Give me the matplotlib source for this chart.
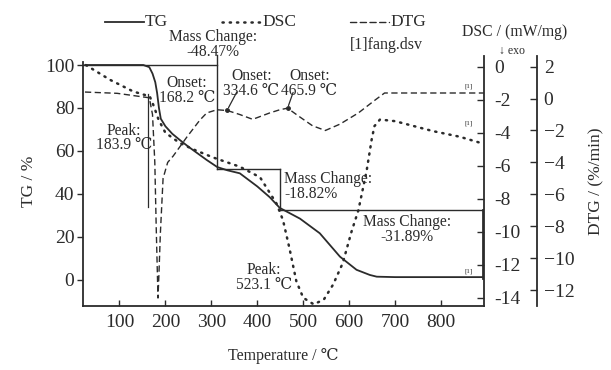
import matplotlib
matplotlib.use("Agg")
import matplotlib.pyplot as plt
from matplotlib.lines import Line2D

plt.rcParams['font.family'] = ['Liberation Serif', 'DejaVu Serif']
plt.rcParams['mathtext.fontset'] = 'stix'

### DATA

temp_tg = [25, 100, 152, 165, 172, 178, 182, 186, 190, 200, 215, 232, 250, 290, 313, 335,
           362, 400, 427, 449, 493, 536, 580, 616, 645, 660, 700, 800, 894]
tg = [100, 100, 100, 99, 96, 92, 87, 80, 75, 71.5, 68, 65, 62, 55.8, 52.5, 51,
      49.6, 43.5, 38.5, 33.5, 28.5, 21.7, 10.8, 4.7, 2.3, 1.5, 1.3, 1.3, 1.3]

temp_dsc = [27, 80, 130, 166, 175, 185, 200, 230, 260, 304, 362, 406, 442, 456, 470, 485,
            500, 523, 545, 565, 586, 605, 620, 638, 649, 655, 667, 700, 782, 840, 884]
dsc = [0.1, -0.8, -1.5, -1.8, -2.4, -3.2, -4.0, -4.6, -5.0, -5.5, -6.06, -6.7, -8.3, -9.3,
       -11.0, -13.0, -14.0, -14.4, -14.1, -13.2, -11.9, -10.0, -8.7, -6.3, -4.4, -3.6,
       -3.2, -3.3, -3.9, -4.24, -4.6]

temp_dtg = [25, 95, 140, 165, 172, 177, 180, 183.9, 186, 189, 195, 205, 217, 247, 275,
            290, 312, 335, 362, 390, 427, 449, 466, 490, 520, 548, 580, 620, 656, 677, 750, 894]
dtg = [0.41, 0.33, 0.15, 0.05, -1.0, -4.0, -8.0, -12.5, -11.0, -8.5, -5.0, -4.0, -3.6,
       -2.4, -1.35, -0.9, -0.7, -0.75, -1.0, -1.3, -0.9, -0.7, -0.6, -1.1, -1.7, -2.0,
       -1.6, -0.9, -0.1, 0.35, 0.35, 0.35]

# onset points marked on the DTG curve
onset_temps = [334.6, 465.9]
onset_dtg = [-0.72, -0.6]

# first DTG peak construction line (temperature, DTG range)
peak_line_temp = 163
peak_line_dtg = [0.3, -6.8]

# mass change steps (temperature of step line, TG level)
step_temps = [313, 449, 894]
step_levels = [100, 51.53, 32.71, 0.82]
step_labels = ["Mass Change:\n-48.47%", "Mass Change:\n-18.82%", "Mass Change:\n-31.89%"]

x_ticks = [100, 200, 300, 400, 500, 600, 700, 800]
tg_ticks = [0, 20, 40, 60, 80, 100]
dsc_ticks = [0, -2, -4, -6, -8, -10, -12, -14]
dtg_ticks = [2, 0, -2, -4, -6, -8, -10, -12]

### PLOT

ink = '#2b2b2b'
dots = (0, (0.5, 2.4))
dashes = (0, (4.5, 2.5))

fig = plt.figure(figsize=(6.11, 3.70), dpi=100)
ax = fig.add_axes([0.1353, 0.1738, 0.6573, 0.6749])
ax_dsc = ax.twinx()
ax_dtg = ax.twinx()

ax.set_xlim(20, 894)
ax.set_ylim(-12, 104.2)
ax_dsc.set_ylim(-14.48, 0.65)
ax_dtg.set_ylim(-12.98, 2.67)

ax.plot(temp_tg, tg, color=ink, lw=1.3, solid_capstyle='round')
ax_dsc.plot(temp_dsc, dsc, color=ink, lw=1.8, linestyle=dots, dash_capstyle='round')
ax_dtg.plot(temp_dtg, dtg, color=ink, lw=1.0, linestyle=dashes)
ax_dtg.plot(onset_temps, onset_dtg, 'o', color=ink, ms=2.5)
ax_dtg.plot([peak_line_temp, peak_line_temp], peak_line_dtg, color=ink, lw=0.9)

# mass change step lines
lw_s = 1.0
ax.plot([20, step_temps[0]], [step_levels[0], step_levels[0]], color=ink, lw=lw_s)
ax.plot([step_temps[0], step_temps[0]], [step_levels[1], 104.8], color=ink, lw=lw_s, clip_on=False)
ax.plot([step_temps[0], step_temps[1]], [step_levels[1], step_levels[1]], color=ink, lw=lw_s)
ax.plot([step_temps[1], step_temps[1]], [step_levels[2], step_levels[1]], color=ink, lw=lw_s)
ax.plot([step_temps[1], step_temps[2]], [step_levels[2], step_levels[2]], color=ink, lw=lw_s)
ax.plot([step_temps[2] - 2, step_temps[2] - 2], [step_levels[3], step_levels[2]], color=ink, lw=2.0)

fs_a = 11.2
txt = dict(fontsize=fs_a, linespacing=0.9, color=ink)
ax.text(step_temps[0] - 10, 102.5, step_labels[0], ha='center', va='bottom', **txt)
ax.text(step_temps[1] + 9, 43.5, step_labels[1], ha='left', va='center', **txt)
ax.text(725, 23.3, step_labels[2], ha='center', va='center', **txt)

# DSC peak / onsets
ax.text(247, 88, "Onset:\n168.2 ℃", ha='center', va='center', **txt)
ax.text(387, 91.5, "Onset:\n334.6 ℃", ha='center', va='center', **txt)
ax.text(513, 91.5, "Onset:\n465.9 ℃", ha='center', va='center', **txt)
ax.text(110, 66, "Peak:\n183.9 ℃", ha='center', va='center', **txt)
ax.text(415, 1.0, "Peak:\n523.1 ℃", ha='center', va='center', **txt)
ax_dtg.annotate("", xy=(onset_temps[0], onset_dtg[0]), xytext=(358, 0.55),
                arrowprops=dict(arrowstyle='-', color=ink, lw=0.9))
ax_dtg.annotate("", xy=(onset_temps[1], onset_dtg[1]), xytext=(480, 0.55),
                arrowprops=dict(arrowstyle='-', color=ink, lw=0.9))

# small [1] tags
for a, xx, yy in [(ax_dtg, 860, 0.6), (ax_dsc, 860, -3.6), (ax, 860, 2.8)]:
    a.text(xx, yy, "[1]", fontsize=5, ha='center', va='bottom', color=ink)

# axes styling
for s in ['top', 'right']:
    ax.spines[s].set_visible(False)
ax.spines['left'].set_bounds(-12, 101.5)
for a in [ax_dsc, ax_dtg]:
    a.spines['top'].set_visible(False)
    a.spines['left'].set_visible(False)
    a.spines['bottom'].set_visible(False)
ax_dtg.spines['right'].set_position(('axes', 1.1305))
for a in [ax, ax_dsc, ax_dtg]:
    for s in a.spines.values():
        s.set_color(ink)
        s.set_linewidth(1.3)

ax.set_xticks(x_ticks)
ax.set_yticks(tg_ticks)
ax_dsc.set_yticks(dsc_ticks)
ax_dtg.set_yticks(dtg_ticks)
ax_dtg.set_yticklabels([str(t).replace('-', '\u2212') for t in dtg_ticks])
ax_dsc.set_yticklabels([str(t) for t in dsc_ticks])
ax.tick_params(axis='x', direction='in', length=4, width=1, labelsize=14, pad=6, colors=ink)
ax.tick_params(axis='y', direction='out', length=4, width=1, labelsize=14, pad=2, colors=ink)
ax_dsc.tick_params(axis='y', direction='in', length=5, width=1, labelsize=14, pad=7, colors=ink)
ax_dtg.tick_params(axis='y', direction='in', length=5, width=1, labelsize=14, pad=5, colors=ink)

ax.set_xlabel("Temperature / ℃", fontsize=11.5, labelpad=12, color=ink)
ax.set_ylabel("TG / %", fontsize=12.5, labelpad=6, color=ink)
ax_dtg.set_ylabel("DTG / (%/min)", fontsize=12.5, labelpad=10, color=ink)

# header texts and legend
fig.text(515 / 611, 1 - 32 / 370, "DSC / (mW/mg)", ha='center', va='center', fontsize=11.3, color=ink)
fig.text(512 / 611, 1 - 51 / 370, "↓ exo", ha='center', va='center', fontsize=8.5, color=ink,
         family=['Liberation Serif', 'DejaVu Sans'])
fig.text(386 / 611, 1 - 45 / 370, "[1]fang.dsv", ha='center', va='center', fontsize=11.5, color=ink)

leg_y = 1 - 22 / 370
for x0, x1, style, lw, name in [(105, 144, '-', 1.3, "TG"),
                                (222, 261, dots, 1.8, "DSC"),
                                (350, 389, dashes, 1.0, "DTG")]:
    fig.add_artist(Line2D([x0 / 611, x1 / 611], [leg_y, leg_y], color=ink, lw=lw,
                          linestyle=style, dash_capstyle='round'))
    fig.text((x1 + 1) / 611, leg_y, name, ha='left', va='center', fontsize=12.5, color=ink)

fig.savefig("out.png", dpi=100)
